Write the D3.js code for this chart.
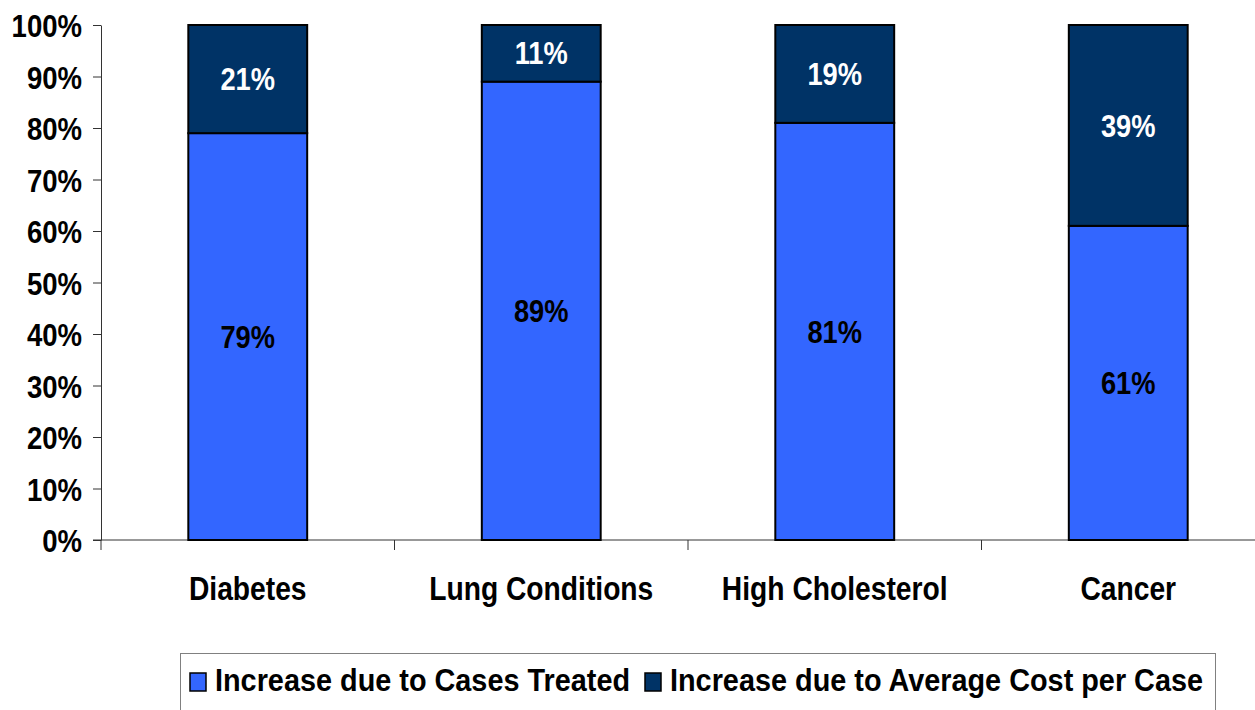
<!DOCTYPE html>
<meta charset="utf-8">
<script src="https://d3js.org/d3.v7.min.js"></script>
<style>
  body { margin: 0; background: #fff; }
  text { font-family: "Liberation Sans", Arial, sans-serif; font-weight: bold; }
</style>
<div id="chart"></div>
<script>

// data
var categories = ["Diabetes", "Lung Conditions", "High Cholesterol", "Cancer"];
var casesTreated = [79, 89, 81, 61];
var avgCost = [21, 11, 19, 39];
var seriesNames = ["Increase due to Cases Treated", "Increase due to Average Cost per Case"];
var seriesColors = ["#3366FF", "#003366"];
var yTicks = [0, 10, 20, 30, 40, 50, 60, 70, 80, 90, 100];

var W = 1255, H = 710;
var plotLeft = 101, plotTop = 25, plotBottom = 540;

var svg = d3.select("#chart").append("svg")
    .attr("width", W)
    .attr("height", H);

// squeeze text horizontally like the narrow original font
function squeeze(sel, k) {
  sel.each(function() {
    var len = this.getComputedTextLength();
    d3.select(this).attr("textLength", len * k).attr("lengthAdjust", "spacingAndGlyphs");
  });
}

var x = d3.scaleBand()
  .domain(categories)
  .range([plotLeft, plotLeft + 4 * 293.5])
  .paddingInner(0.595)
  .paddingOuter(0.2975);

var y = d3.scaleLinear()
  .domain([0, 100])
  .range([plotBottom, plotTop]);

// Y axis
var yAxis = svg.append("g")
  .attr("transform", "translate(" + plotLeft + ",0)")
  .call(d3.axisLeft(y).tickValues(yTicks).tickFormat(function(d) { return d + "%"; })
        .tickSize(8).tickPadding(11).tickSizeOuter(0));
yAxis.select(".domain").attr("stroke", "#333");
yAxis.selectAll(".tick line").attr("stroke", "#333");
yAxis.selectAll(".tick text")
  .attr("fill", "#000")
  .style("font-size", "32px")
  .style("font-family", "'Liberation Sans', Arial, sans-serif")
  .style("font-weight", "bold")
  .attr("dy", "0.36em")
  .call(squeeze, 0.86);

// X axis line + category boundaries
svg.append("line")
  .attr("x1", plotLeft - 8).attr("x2", W)
  .attr("y1", plotBottom).attr("y2", plotBottom)
  .attr("stroke", "#333");

var step = x.step();
svg.selectAll(".ctick")
  .data(categories)
  .enter()
  .append("line")
    .attr("x1", function(d) { return x(d) - step * 0.2975; })
    .attr("x2", function(d) { return x(d) - step * 0.2975; })
    .attr("y1", plotBottom)
    .attr("y2", plotBottom + 10)
    .attr("stroke", "#333");

svg.selectAll(".clabel")
  .data(categories)
  .enter()
  .append("text")
    .attr("x", function(d) { return x(d) + x.bandwidth() / 2; })
    .attr("y", 600)
    .attr("text-anchor", "middle")
    .style("font-size", "34px")
    .text(function(d) { return d; })
    .call(squeeze, 0.83);

// stacked bars
var rows = categories.map(function(c, i) {
  return { cat: c, a: casesTreated[i], b: avgCost[i] };
});

svg.selectAll(".barA")
  .data(rows)
  .enter()
  .append("rect")
    .attr("x", function(d) { return x(d.cat); })
    .attr("y", function(d) { return y(d.a); })
    .attr("width", x.bandwidth())
    .attr("height", function(d) { return y(0) - y(d.a); })
    .attr("fill", seriesColors[0])
    .attr("stroke", "#000")
    .attr("stroke-width", 2);

svg.selectAll(".barB")
  .data(rows)
  .enter()
  .append("rect")
    .attr("x", function(d) { return x(d.cat); })
    .attr("y", function(d) { return y(d.a + d.b); })
    .attr("width", x.bandwidth())
    .attr("height", function(d) { return y(d.a) - y(d.a + d.b); })
    .attr("fill", seriesColors[1])
    .attr("stroke", "#000")
    .attr("stroke-width", 2);

svg.selectAll(".lblA")
  .data(rows)
  .enter()
  .append("text")
    .attr("x", function(d) { return x(d.cat) + x.bandwidth() / 2; })
    .attr("y", function(d) { return y(d.a / 2); })
    .attr("dy", "0.36em")
    .attr("text-anchor", "middle")
    .attr("fill", "#000")
    .style("font-size", "31px")
    .text(function(d) { return d.a + "%"; })
    .call(squeeze, 0.88);

svg.selectAll(".lblB")
  .data(rows)
  .enter()
  .append("text")
    .attr("x", function(d) { return x(d.cat) + x.bandwidth() / 2; })
    .attr("y", function(d) { return y(d.a + d.b / 2); })
    .attr("dy", "0.36em")
    .attr("text-anchor", "middle")
    .attr("fill", "#fff")
    .style("font-size", "31px")
    .text(function(d) { return d.b + "%"; })
    .call(squeeze, 0.88);

// legend
var lg = svg.append("g");
lg.append("rect")
  .attr("x", 180.5).attr("y", 653.5)
  .attr("width", 1035).attr("height", 80)
  .attr("fill", "#fff")
  .attr("stroke", "#808080");

var legendX = [190, 645];
seriesNames.forEach(function(name, i) {
  lg.append("rect")
    .attr("x", legendX[i]).attr("y", 673)
    .attr("width", 16).attr("height", 18)
    .attr("fill", seriesColors[i])
    .attr("stroke", "#000")
    .attr("stroke-width", 1.5);
  lg.append("text")
    .attr("x", legendX[i] + 25)
    .attr("y", 691)
    .style("font-size", "31px")
    .text(name)
    .call(squeeze, 0.93);
});

</script>
